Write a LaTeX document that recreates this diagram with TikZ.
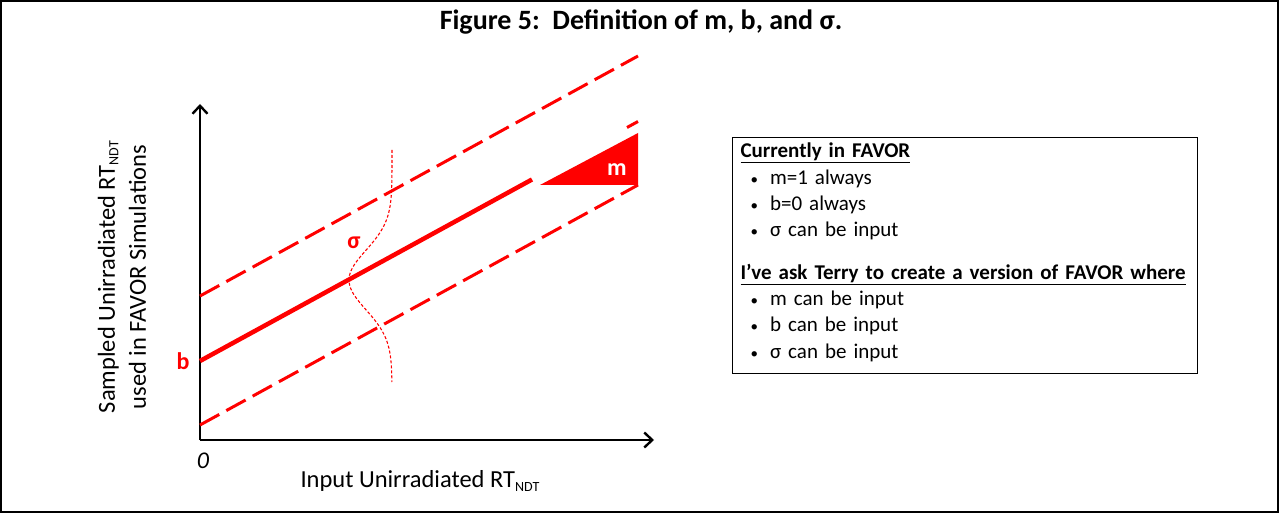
\documentclass[tikz,border=0pt]{standalone}
\usepackage{fontspec}
\setmainfont{Carlito}
\usepackage{tikz}
\usetikzlibrary{arrows.meta, positioning}

\newcommand{\bulletitem}{\hspace{10pt}{\fontsize{15}{15}\selectfont•}\hspace{12pt}}
\newcommand{\ndt}{\raisebox{-3.5pt}{\fontsize{14}{14}\selectfont NDT}}

\begin{document}
\begin{tikzpicture}[
  x=1pt, y=-1pt,
  axis/.style={line width=2.4pt, -{Straight Barb[length=8pt,width=15pt]}},
  fitline/.style={red, line width=4.5pt},
  band/.style={red, line width=3pt, dash pattern=on 22pt off 8pt},
  gauss/.style={red, line width=1.1pt, dash pattern=on 3pt off 2pt},
  axlbl/.style={font=\fontsize{24.5}{31}\selectfont, align=center},
  redlbl/.style={text=red, font=\bfseries\fontsize{24}{28}\selectfont},
  box/.style={draw, line width=1.2pt, anchor=north west, align=left,
              minimum width=465pt, minimum height=236pt, text width=449pt,
              inner xsep=8pt, font=\fontsize{21}{26.3}\selectfont}
]
  \useasboundingbox (0,0) rectangle (1279,513);
  \draw[line width=1.5pt] (1,1) rectangle (1278,512);

  \node[font=\bfseries\fontsize{28}{32}\selectfont] (title) at (641,22)
    {Figure 5:\ \ Definition of m, b, and σ.};

  % axes
  \coordinate (origin) at (200,440);
  \coordinate (ytop) at (200,104);
  \coordinate (xend) at (654,440);
  \draw[axis] (origin) -- (ytop);
  \draw[axis] (origin) -- (xend);
  \node[font=\itshape\fontsize{24}{28}\selectfont] (zero) at (203,461) {0};
  \node[axlbl] (xlbl) at (420,481) {Input Unirradiated RT\ndt};
  \node[axlbl, rotate=90] (ylbl) at (122,277)
    {Sampled Unirradiated RT\ndt\\ used in FAVOR Simulations};

  % fit line and band
  \coordinate (b) at (200,361);
  \coordinate (fitend) at (532,179.5);
  \coordinate (extstart) at (627,127.5);
  \coordinate (extend) at (638,121.5);
  \draw[fitline] (b) -- (fitend);
  \draw[red, line width=3pt] (extstart) -- (extend);
  \coordinate (upA) at (200,296);
  \coordinate (upB) at (638,56);
  \coordinate (loA) at (200,425);
  \coordinate (loB) at (638,185);
  \draw[band] (upA) -- (upB);
  \draw[band] (loA) -- (loB);

  % slope triangle
  \fill[red] (540,185) -- (638,133) -- (638,185) -- cycle;
  \node[text=white, font=\bfseries\fontsize{24}{28}\selectfont] (m) at (617,170) {m};

  % spread
  \draw[gauss] plot[domain=150:382, samples=90, variable=\t]
    ({392-43*exp(0-((\t-280)/42)^2)}, \t);
  \node[redlbl] (sig) at (354,243) {σ};
  \node[redlbl] (blbl) at (183,361) {b};

  % notes
  \node[box] (notes) at (732,137) {%
    \underline{\textbf{Currently in FAVOR}}\\
    \bulletitem m=1 always\\
    \bulletitem b=0 always\\
    \bulletitem σ can be input\\[16pt]
    \underline{\textbf{I’ve ask Terry to create a version of FAVOR where}}\\
    \bulletitem m can be input\\
    \bulletitem b can be input\\
    \bulletitem σ can be input\rule[-10pt]{0pt}{0pt}};
\end{tikzpicture}
\end{document}
